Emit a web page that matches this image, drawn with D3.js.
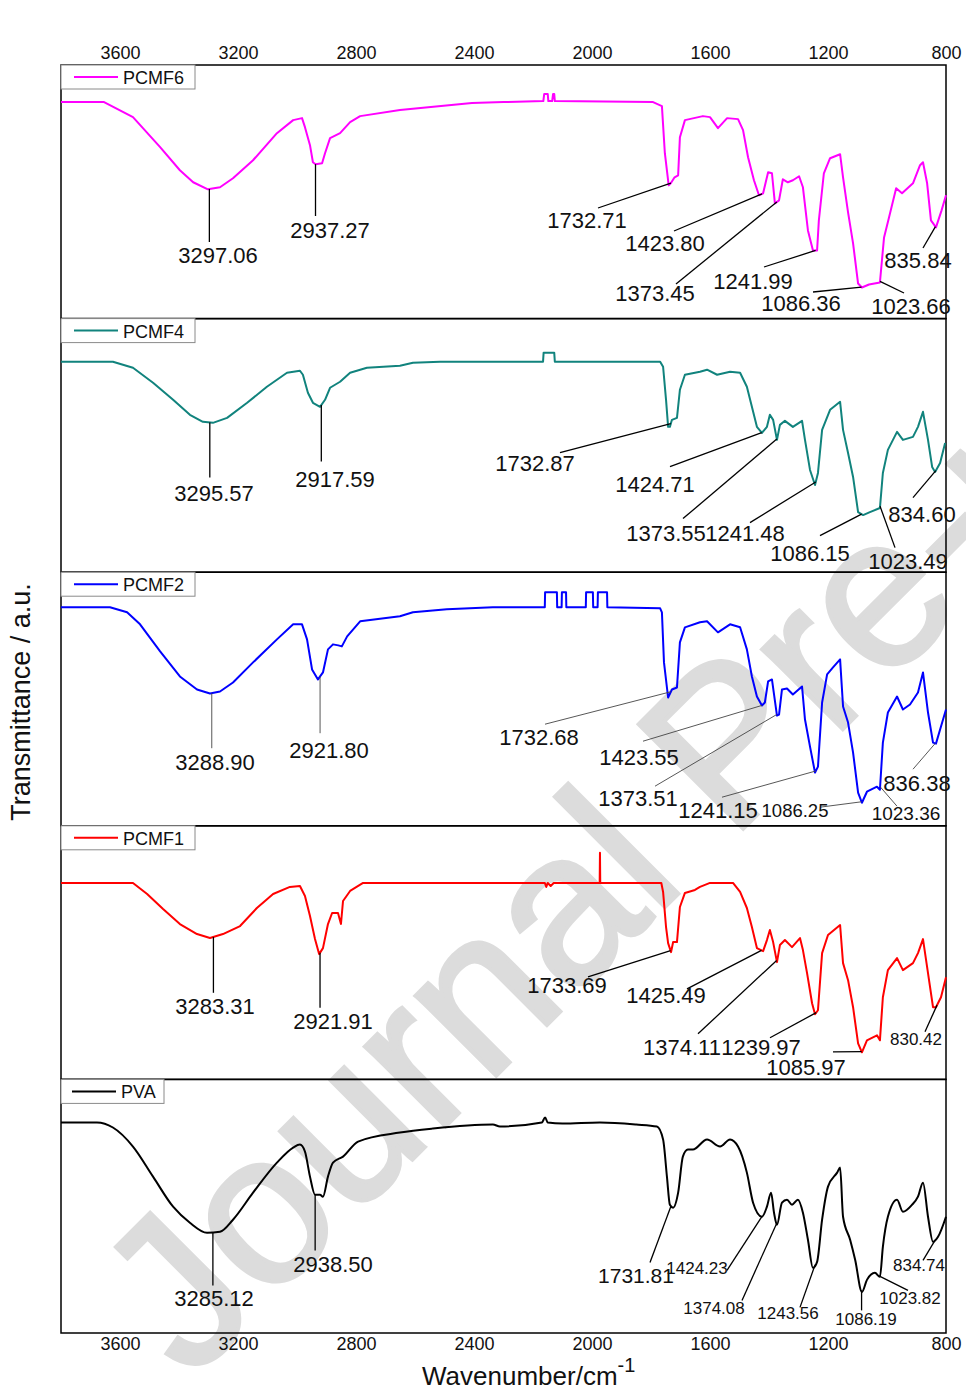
<!DOCTYPE html>
<html>
<head>
<meta charset="utf-8">
<script src="https://cdn.jsdelivr.net/npm/d3@7"></script>
<style>
  body { margin: 0; background: #fff; }
  text { font-family: "Liberation Sans", Arial, sans-serif; }
</style>
</head>
<body>
<div id="chart"></div>
<script>
var width = 966,
    height = 1395;

// wavenumber ticks (top and bottom axes)
var ticks = [3600, 3200, 2800, 2400, 2000, 1600, 1200, 800];
var seriesNames = ["PCMF6", "PCMF4", "PCMF2", "PCMF1", "PVA"];

// spectra: [wavenumber cm-1, transmittance a.u.]
var pcmf6 = [[3800,216],[3654,216],[3556,201],[3464,171],[3397,148],[3352,136],[3302,129],[3261,131],[3217,140],[3149,158],[3068,185],[3013,198],[2983,200],[2973,191],[2956,173],[2946,156],[2937,154],[2915,155],[2905,165],[2888,180],[2854,185],[2820,196],[2786,202],[2651,208],[2407,215],[2300,216],[2165,217],[2162,224],[2150,224],[2148,217],[2135,217],[2132,224],[2128,224],[2126,217],[1793,216],[1763,212],[1753,165],[1740,133],[1733,135],[1720,141],[1708,143],[1702,181],[1685,198],[1624,202],[1600,201],[1573,190],[1542,200],[1505,199],[1488,188],[1471,161],[1451,138],[1434,123],[1420,125],[1403,146],[1390,145],[1380,115],[1366,118],[1353,139],[1336,136],[1319,138],[1298,142],[1285,131],[1268,88],[1251,68],[1237,68],[1231,98],[1214,145],[1193,160],[1159,164],[1149,141],[1132,106],[1115,75],[1098,35],[1085,31],[1061,34],[1024,36],[1010,81],[993,101],[969,130],[949,125],[912,135],[888,153],[878,156],[864,135],[851,98],[834,91],[815,108],[800,123]];

var pcmf4 = [[3800,210],[3624,210],[3556,204],[3488,189],[3420,172],[3363,157],[3319,150],[3285,149],[3237,154],[3169,169],[3102,185],[3034,199],[2990,201],[2980,197],[2963,179],[2946,169],[2922,165],[2905,172],[2888,184],[2854,190],[2820,199],[2763,204],[2651,206],[2607,209],[2515,210],[2166,210],[2164,219],[2128,219],[2126,210],[1769,210],[1759,205],[1749,172],[1742,145],[1736,145],[1729,152],[1712,154],[1702,182],[1685,197],[1634,200],[1610,202],[1576,197],[1532,200],[1498,199],[1475,185],[1458,165],[1441,145],[1424,139],[1407,145],[1397,157],[1386,152],[1373,132],[1363,147],[1346,151],[1319,145],[1288,151],[1278,132],[1261,102],[1244,87],[1234,99],[1220,142],[1193,162],[1159,170],[1149,142],[1132,119],[1115,95],[1098,60],[1081,57],[1058,60],[1024,64],[1014,99],[997,122],[966,140],[946,132],[912,135],[895,145],[878,160],[861,132],[847,105],[837,100],[820,109],[803,129]];

var pcmf2 = [[3800,218],[3634,218],[3576,213],[3532,201],[3464,174],[3397,149],[3339,136],[3295,132],[3261,134],[3217,143],[3149,163],[3068,186],[3013,201],[2983,201],[2966,186],[2949,156],[2929,146],[2912,153],[2895,176],[2878,181],[2860,180],[2848,179],[2830,189],[2786,204],[2651,209],[2607,213],[2492,216],[2336,218],[2160,218],[2159,233],[2119,233],[2118,218],[2103,218],[2102,233],[2088,233],[2087,218],[2021,218],[2020,233],[1997,233],[1996,218],[1981,218],[1980,233],[1949,233],[1948,218],[1769,217],[1763,213],[1756,163],[1742,128],[1729,136],[1712,138],[1702,183],[1685,198],[1634,203],[1610,204],[1573,193],[1532,201],[1498,198],[1475,176],[1458,149],[1441,129],[1424,120],[1414,123],[1403,144],[1390,146],[1373,110],[1366,111],[1356,136],[1339,137],[1319,131],[1288,139],[1278,106],[1261,79],[1244,53],[1234,59],[1220,123],[1203,151],[1183,158],[1159,166],[1149,119],[1132,103],[1115,73],[1098,33],[1085,23],[1068,34],[1034,39],[1024,36],[1014,83],[997,113],[966,129],[946,116],[922,121],[895,133],[878,153],[861,113],[844,83],[834,82],[817,99],[800,116]];

var pcmf1 = [[3800,196],[3556,196],[3508,185],[3454,170],[3397,155],[3339,145],[3295,141],[3251,145],[3193,153],[3136,171],[3081,185],[3024,192],[2990,193],[2973,183],[2956,163],[2939,140],[2925,125],[2912,131],[2895,155],[2881,166],[2861,166],[2851,155],[2844,178],[2820,188],[2776,196],[2160,196],[2155,192],[2150,196],[2140,193],[2130,196],[1974,196],[1973,226],[1972,196],[1765,196],[1759,187],[1749,152],[1742,136],[1732,127],[1725,137],[1712,137],[1702,172],[1685,186],[1651,189],[1634,192],[1600,196],[1522,196],[1498,187],[1475,171],[1458,152],[1441,131],[1420,128],[1407,139],[1397,149],[1386,137],[1373,117],[1363,134],[1346,139],[1322,132],[1295,141],[1285,129],[1271,106],[1254,76],[1244,65],[1234,69],[1220,126],[1200,144],[1159,154],[1149,116],[1132,99],[1115,72],[1098,36],[1085,27],[1068,39],[1034,44],[1024,39],[1014,82],[997,109],[966,121],[946,109],[912,116],[895,126],[878,140],[861,106],[844,72],[834,72],[817,82],[800,102]];

var pva = [[3800,210],[3678,210],[3624,205],[3556,186],[3488,156],[3420,126],[3363,110],[3305,100],[3261,101],[3217,113],[3149,140],[3068,170],[3013,185],[2990,188],[2973,181],[2956,156],[2939,138],[2922,138],[2912,136],[2895,156],[2878,170],[2844,176],[2793,191],[2651,200],[2539,204],[2336,208],[2312,206],[2170,210],[2159,215],[2150,210],[2100,209],[1973,210],[1850,208],[1780,206],[1759,193],[1746,156],[1736,128],[1725,125],[1708,140],[1692,176],[1675,183],[1658,183],[1610,193],[1566,186],[1532,193],[1505,186],[1475,160],[1454,130],[1424,116],[1407,126],[1393,140],[1383,120],[1373,108],[1356,130],[1339,133],[1322,128],[1302,133],[1285,120],[1268,93],[1251,65],[1237,71],[1220,113],[1200,146],[1169,160],[1159,165],[1149,116],[1125,93],[1108,73],[1085,41],[1068,53],[1041,60],[1024,56],[1014,86],[997,116],[966,133],[946,121],[915,128],[895,136],[878,150],[861,116],[844,91],[827,96],[800,116]];

// peak labels of each spectrum
var pcmf6Peaks = ["3297.06","2937.27","1732.71","1423.80","1373.45","1241.99","1086.36","1023.66","835.84"];
var pcmf4Peaks = ["3295.57","2917.59","1732.87","1424.71","1373.55","1241.48","1086.15","1023.49","834.60"];
var pcmf2Peaks = ["3288.90","2921.80","1732.68","1423.55","1373.51","1241.15","1086.25","1023.36","836.38"];
var pcmf1Peaks = ["3283.31","2921.91","1733.69","1425.49","1374.11","1239.97","1085.97","830.42"];
var pvaPeaks   = ["3285.12","2938.50","1731.81","1424.23","1374.08","1243.56","1086.19","1023.82","834.74"];

var allSeries = [pcmf6, pcmf4, pcmf2, pcmf1, pva];
var allPeaks = [pcmf6Peaks, pcmf4Peaks, pcmf2Peaks, pcmf1Peaks, pvaPeaks];

// ---- styling / layout ----
var colors = ["#ff00ff", "#11837d", "#0000ff", "#ff0000", "#000000"];
var legendWidth = [134, 134, 134, 134, 103];

// label placement inside each panel: [text x, text y, leader end x (null = vertical), leader end y, font size]
var labelLayout = [
  [[218,190,null,177,22],[330,165,null,151,22],[587,155,598,143,22],[665,178,674,166,22],[655,228,676,219,22],[753,216,764,202,22],[801,238,813,227,22],[911,241,904,228,22],[918,195,923,183,22]],
  [[214,174,null,159,22],[335,160,null,143,22],[535,144,560,134,22],[655,165,670,148,22],[666,214,683,200,22],[745,214,750,204,22],[810,234,820,217,22],[908,242,895,229,22],[922,195,913,179,22]],
  [[215,190,null,176,22],[329,178,null,161,22],[539,165,545,152,22],[639,185,643,169,22],[638,226,655,214,22],[718,238,722,225,22],[795,238,820,235,18.5],[906,241,897,234,19],[917,211,913,197,22]],
  [[215,180,null,167,22],[333,195,null,182,22],[567,159,588,151,22],[666,169,687,163,22],[682,221,698,208,22],[761,221,770,212,22],[806,241,833,226,22],[916,213,925,206,17]],
  [[214,219,null,206,22],[333,185,null,171,22],[636,196,650,183,21],[697,188,727,191,17],[714,228,742,221,17],[788,233,800,228,17],[866,239,null,231,17],[910,218,908,211,17],[919,185,923,181,17]]
];

var left = 61, right = 946, top0 = 65, bottom = 1333;
var panelH = (bottom - top0) / 5;

var x = d3.scaleLinear().domain([3800, 800]).range([left, right]);

var svg = d3.select("#chart").append("svg")
    .attr("width", width)
    .attr("height", height);

svg.append("rect").attr("width", width).attr("height", height).attr("fill", "#fff");

// watermark
svg.append("text")
    .attr("transform", "translate(190,1382) rotate(-45)")
    .attr("font-size", 215)
    .attr("fill", "#dcdcdc")
    .attr("stroke", "#dcdcdc")
    .attr("stroke-width", 4)
    .text("Journal Pre-proof");

function valueAt(data, wn) {
  for (var i = 0; i < data.length - 1; i++) {
    var a = data[i], b = data[i + 1];
    if (wn <= a[0] && wn >= b[0]) {
      var t = (a[0] - wn) / ((a[0] - b[0]) || 1);
      return a[1] + t * (b[1] - a[1]);
    }
  }
  return data[data.length - 1][1];
}

allSeries.forEach(function(data, i) {
  var top = top0 + i * panelH;
  var y = d3.scaleLinear().domain([0, 253]).range([top + panelH, top]);
  var g = svg.append("g");

  g.append("rect")
      .attr("x", left).attr("y", top)
      .attr("width", right - left).attr("height", panelH)
      .attr("fill", "none").attr("stroke", "#000").attr("stroke-width", 1.5);

  var line = d3.line()
      .x(function(d) { return x(d[0]); })
      .y(function(d) { return y(d[1]); })
      .curve(i === 4 ? d3.curveMonotoneX : d3.curveLinear);

  g.append("path")
      .datum(data)
      .attr("d", line)
      .attr("fill", "none")
      .attr("stroke", colors[i])
      .attr("stroke-width", 2)
      .attr("stroke-linejoin", "round");

  // peak annotations
  allPeaks[i].forEach(function(lbl, j) {
    var lay = labelLayout[i][j];
    var wn = parseFloat(lbl);
    var px = x(wn), py = y(valueAt(data, wn));
    var ex = lay[2] === null ? px : lay[2];
    g.append("line")
        .attr("x1", px).attr("y1", py)
        .attr("x2", ex).attr("y2", top + lay[3])
        .attr("stroke", i === 2 ? "#444" : "#000")
        .attr("stroke-width", i === 2 ? 0.9 : 1.3);
    g.append("text")
        .attr("x", lay[0]).attr("y", top + lay[1])
        .attr("dy", "0.36em")
        .attr("text-anchor", "middle")
        .attr("font-size", lay[4])
        .attr("fill", "#111")
        .text(lbl);
  });

  // legend
  var lg = g.append("g").attr("transform", "translate(" + left + "," + top + ")");
  lg.append("rect")
      .attr("width", legendWidth[i]).attr("height", 24)
      .attr("fill", "#fff").attr("stroke", "#8a8a8a").attr("stroke-width", 1);
  var lx = i === 4 ? 11 : 13;
  lg.append("line")
      .attr("x1", lx).attr("x2", lx + 44)
      .attr("y1", 12).attr("y2", 12)
      .attr("stroke", colors[i]).attr("stroke-width", 2);
  lg.append("text")
      .attr("x", lx + 49).attr("y", 19)
      .attr("font-size", 18)
      .attr("fill", "#111")
      .text(seriesNames[i]);
});

// axes
var topAxis = d3.axisTop(x).tickValues(ticks).tickSize(0).tickPadding(6).tickFormat(d3.format("d"));
var bottomAxis = d3.axisBottom(x).tickValues(ticks).tickSize(0).tickPadding(4).tickFormat(d3.format("d"));

svg.append("g").attr("transform", "translate(0," + top0 + ")").call(topAxis)
    .call(function(g) { g.select(".domain").remove(); })
    .selectAll("text").attr("font-size", 18).attr("fill", "#111")
    .style("font-family", "'Liberation Sans', Arial, sans-serif");

svg.append("g").attr("transform", "translate(0," + bottom + ")").call(bottomAxis)
    .call(function(g) { g.select(".domain").remove(); })
    .selectAll("text").attr("font-size", 18).attr("fill", "#111")
    .style("font-family", "'Liberation Sans', Arial, sans-serif");

// axis titles
var xt = svg.append("text")
    .attr("x", 422).attr("y", 1385)
    .attr("font-size", 26)
    .attr("fill", "#111");
xt.append("tspan").text("Wavenumber/cm");
xt.append("tspan").attr("font-size", 20).attr("dy", -13).text("-1");

svg.append("text")
    .attr("transform", "translate(30,702) rotate(-90)")
    .attr("text-anchor", "middle")
    .attr("font-size", 27)
    .attr("fill", "#111")
    .text("Transmittance / a.u.");
</script>
</body>
</html>
